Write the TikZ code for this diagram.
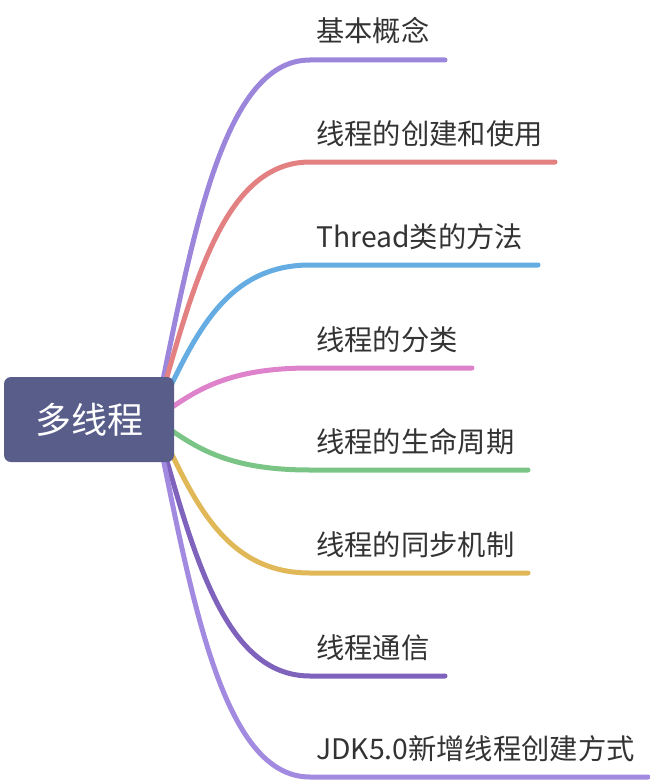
\documentclass[tikz,border=0pt]{standalone}
\usepackage{fontspec}
\newfontfamily\cjk{Noto Sans CJK SC}
\definecolor{rootblue}{RGB}{88,93,138}
\definecolor{txtgray}{RGB}{51,51,51}
\definecolor{brpurple}{RGB}{156,134,220}
\definecolor{brred}{RGB}{226,128,130}
\definecolor{brblue}{RGB}{100,172,226}
\definecolor{brpink}{RGB}{222,130,204}
\definecolor{brgreen}{RGB}{122,196,134}
\definecolor{bryellow}{RGB}{224,184,88}
\definecolor{brviolet}{RGB}{126,98,188}
\definecolor{brlilac}{RGB}{162,138,224}
\tikzset{
  branch/.style={line width=5pt, line cap=round},
  leaf/.style={anchor=base west, inner sep=0pt, text=txtgray,
    font=\cjk\fontsize{28.3}{34}\selectfont},
}

\begin{document}
\begin{tikzpicture}[x=1pt,y=-1pt]
  \useasboundingbox (0,0) rectangle (650,784);
  \coordinate (hub) at (155,419);
  % branches, drawn before the root box so that it covers their start
  \foreach \i/\y/\xe/\col/\txt in {1/60/445/brpurple/基本概念,
      2/162/555/brred/线程的创建和使用,
      3/265/538/brblue/Thread类的方法,
      4/368/472/brpink/线程的分类,
      5/470/528/brgreen/线程的生命周期,
      6/573/528/bryellow/线程的同步机制,
      7/676/445/brviolet/线程通信,
      8/777/648/brlilac/JDK5.0新增线程创建方式} {
    \coordinate (knee\i) at (310,\y);
    \coordinate (tip\i) at (\xe,\y);
    \draw[branch,draw=\col] (hub) .. controls (192,{0.5*(\y+419)}) and (222,\y) .. (knee\i) -- (tip\i);
    \node[leaf] (lbl\i) at (316,\y-18) {\txt};
  }
  \node[fill=rootblue, rounded corners=7pt, minimum width=170pt, minimum height=85pt,
    text=white, font=\cjk\fontsize{36}{40}\selectfont] (root) at (89,419.5) {多线程};
\end{tikzpicture}
\end{document}
